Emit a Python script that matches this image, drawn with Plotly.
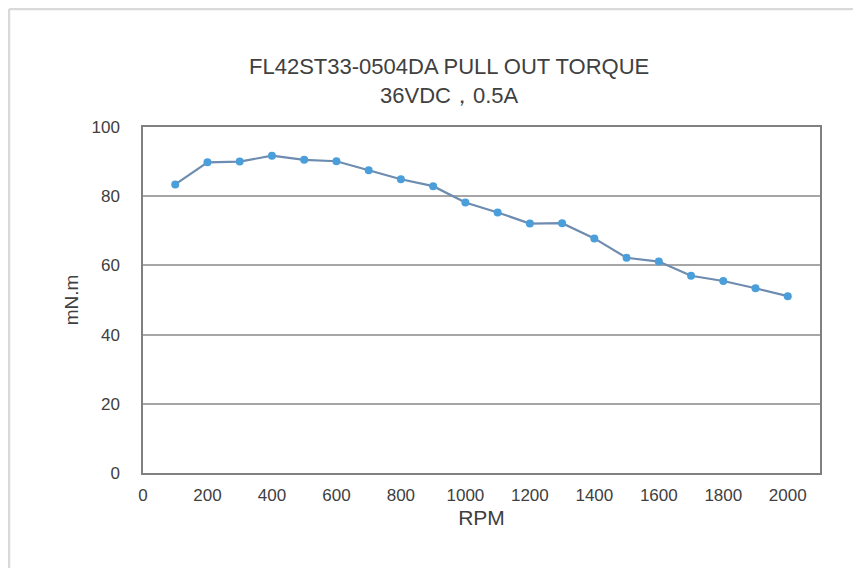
import plotly.graph_objects as go

rpm = [100, 200, 300, 400, 500, 600, 700, 800, 900, 1000,
       1100, 1200, 1300, 1400, 1500, 1600, 1700, 1800, 1900, 2000]
torque = [83.4, 89.8, 90.0, 91.7, 90.5, 90.1, 87.5, 84.9, 82.9, 78.2,
          75.3, 72.1, 72.2, 67.8, 62.2, 61.1, 57.0, 55.5, 53.4, 51.1]
x_ticks = [0, 200, 400, 600, 800, 1000, 1200, 1400, 1600, 1800, 2000]
y_ticks = [0, 20, 40, 60, 80, 100]

title_lines = ["FL42ST33-0504DA PULL OUT TORQUE", "36VDC，0.5A"]

OFF = 8  # page body offset
W, H = 861, 568
L, R, T, B = 143 - OFF, 41 + OFF, 127 - OFF, 95 + OFF

fig = go.Figure()
fig.add_trace(go.Scatter(
    x=rpm, y=torque, mode="lines+markers",
    line=dict(color="#6d8caf", width=2.2),
    marker=dict(color="#4a9fda", size=8),
    showlegend=False,
))

font = "Liberation Sans, Arial, sans-serif"
fig.update_layout(
    width=W, height=H,
    margin=dict(l=L, r=R, t=T, b=B),
    paper_bgcolor="white", plot_bgcolor="white",
    font=dict(family=font, color="#404040"),
    xaxis=dict(
        range=[0, 2100], tickvals=x_ticks, ticktext=[str(v) for v in x_ticks],
        showgrid=False, zeroline=False, showline=True, linecolor="#808080",
        linewidth=1.5, mirror=True, ticks="", tickfont=dict(size=17),
        ticklabelstandoff=6,
        title=dict(text="RPM", font=dict(size=21), standoff=6),
    ),
    yaxis=dict(
        range=[0, 100], tickvals=y_ticks, ticktext=[str(v) for v in y_ticks],
        showgrid=True, gridcolor="#a6a6a6", gridwidth=1.5,
        zeroline=False, showline=True, linecolor="#808080",
        linewidth=1.5, mirror=True, ticks="", tickfont=dict(size=17),
        ticklabelstandoff=18,
        title=dict(text="mN.m", font=dict(size=19), standoff=8),
    ),
)

pw, ph = W - L - R, H - T - B
fig.add_annotation(
    text="<br>".join(title_lines), xref="paper", yref="paper",
    x=(449 - OFF - L) / pw, y=1 + (T - (52 - OFF)) / ph,
    xanchor="center", yanchor="top", showarrow=False,
    font=dict(size=22, color="#404040", family=font), align="center",
)

# light outer frame (top and left edges)
fig.add_shape(type="line", xref="paper", yref="paper",
              x0=(1 - L) / pw, x1=(W + 5 - L) / pw,
              y0=1 + (T - 1) / ph, y1=1 + (T - 1) / ph,
              line=dict(color="#d9d9d9", width=2.5))
fig.add_shape(type="line", xref="paper", yref="paper",
              x0=(1 - L) / pw, x1=(1 - L) / pw,
              y0=1 + (T - 1) / ph, y1=-(B + 5) / ph,
              line=dict(color="#d9d9d9", width=2.5))

fig.write_html("out.html")
